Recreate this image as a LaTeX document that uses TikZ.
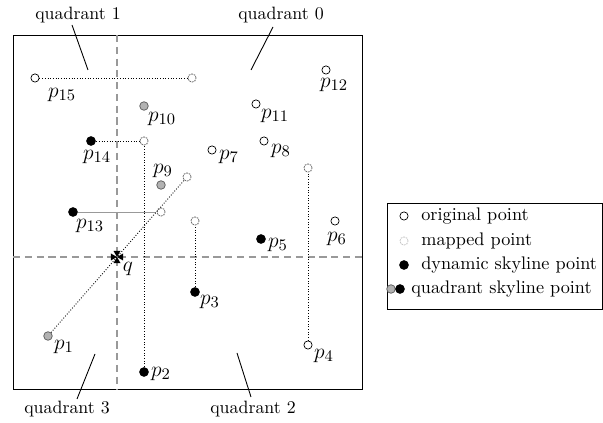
\documentclass[tikz,border=0pt]{standalone}
\usetikzlibrary{calc}
\begin{document}
\begin{tikzpicture}[x=0.56pt, y=-0.56pt]
    \tikzstyle{orig} = [draw, circle, fill=white, inner sep=0pt, minimum size=4.6pt, line width=0.4pt]
    \tikzstyle{mapped} = [draw=gray!85!black, circle, fill=white, dash pattern=on 1pt off 0.5pt, inner sep=0pt, minimum size=4.6pt, line width=0.45pt]
    \tikzstyle{dyn} = [circle, fill=black, inner sep=0pt, minimum size=5.4pt]
    \tikzstyle{quad} = [draw=gray!70!black, circle, fill=gray!60, inner sep=0pt, minimum size=4.8pt, line width=0.4pt]
    \tikzstyle{plabel} = [inner sep=0pt, font=\fontsize{13}{15}\selectfont]
    \tikzstyle{qlabel} = [inner sep=1pt, font=\normalsize]
    \tikzstyle{keytext} = [inner sep=0pt, anchor=west, font=\fontsize{10.2}{12}\selectfont]
    \tikzstyle{link} = [densely dotted, line width=0.5pt]
    \tikzstyle{axis} = [gray!80, line width=0.9pt, dash pattern=on 4pt off 2.6pt]

    \useasboundingbox (0,0) rectangle (603,423);

    % frame and quadrant axes
    \coordinate (nw) at (13,35);
    \coordinate (se) at (362,389);
    \coordinate (q) at (117,257);
    \draw[line width=0.55pt] (nw) rectangle (se);
    \draw[axis] (q |- nw) -- (q |- se);
    \draw[axis] (q -| nw) -- (q -| se);

    % quadrant names
    \node[qlabel] (qd1) at (78,15) {quadrant 1};
    \node[qlabel] (qd0) at (281,15) {quadrant 0};
    \node[qlabel] (qd3) at (67,409) {quadrant 3};
    \node[qlabel] (qd2) at (253,409) {quadrant 2};
    \coordinate (qd1a) at (72,25);  \coordinate (qd1b) at (88,70);
    \coordinate (qd0a) at (273,27); \coordinate (qd0b) at (251,70);
    \coordinate (qd3a) at (77,399); \coordinate (qd3b) at (95,354);
    \coordinate (qd2a) at (251,397); \coordinate (qd2b) at (237,353);
    \draw[line width=0.5pt] (qd1a) -- (qd1b);
    \draw[line width=0.5pt] (qd0a) -- (qd0b);
    \draw[line width=0.5pt] (qd3a) -- (qd3b);
    \draw[line width=0.5pt] (qd2a) -- (qd2b);

    % points
    \node[orig] (p15) at (35,78) {};
    \node[mapped] (m15) at (192,78) {};
    \node[quad] (p10) at (144,106) {};
    \node[dyn] (p14) at (91,141) {};
    \node[mapped] (m14) at (144,141) {};
    \node[dyn] (p13) at (73,212) {};
    \node[mapped] (m13) at (161,212) {};
    \node[quad] (p9) at (161,185) {};
    \node[quad] (p1) at (48,336) {};
    \node[mapped] (m1) at (187,177) {};
    \node[dyn] (p2) at (144,372) {};
    \node[dyn] (p3) at (195,292) {};
    \node[mapped] (m3) at (195,221) {};
    \node[orig] (p7) at (212,150) {};
    \node[orig] (p11) at (256,104) {};
    \node[orig] (p8) at (264,141) {};
    \node[orig] (p12) at (326,70) {};
    \node[dyn] (p5) at (261,239) {};
    \node[orig] (p6) at (335,221) {};
    \node[orig] (p4) at (308,345) {};
    \node[mapped] (m4) at (308,168) {};

    % links to mapped points
    \draw[link] (p15) -- (m15);
    \draw[link] (p14) -- (m14);
    \draw[link] (p2) -- (m14);
    \draw[gray!80, line width=0.4pt] (p13) -- (m13);
    \draw[link] (p1) -- (m1);
    \draw[link] (p3) -- (m3);
    \draw[link] (p4) -- (m4);

    % query point
    \foreach \a in {0,90,180,270}
        \fill (q) -- ($(q)+(\a-30:7)$) -- ($(q)+(\a+30:7)$) -- cycle;
    \node[plabel] (lq) at (128,269) {$q$};

    % labels
    \node[plabel] (l15) at (62,95) {$p_{15}$};
    \node[plabel] (l10) at (162,119) {$p_{10}$};
    \node[plabel] (l14) at (97,157) {$p_{14}$};
    \node[plabel] (l13) at (90,226) {$p_{13}$};
    \node[plabel] (l9) at (163,171) {$p_{9}$};
    \node[plabel] (l7) at (229,157) {$p_{7}$};
    \node[plabel] (l11) at (275,116) {$p_{11}$};
    \node[plabel] (l8) at (281,151) {$p_{8}$};
    \node[plabel] (l12) at (334,85) {$p_{12}$};
    \node[plabel] (l5) at (278,245) {$p_{5}$};
    \node[plabel] (l6) at (337,239) {$p_{6}$};
    \node[plabel] (l3) at (210,302) {$p_{3}$};
    \node[plabel] (l2) at (161,374) {$p_{2}$};
    \node[plabel] (l1) at (64,347) {$p_{1}$};
    \node[plabel] (l4) at (324,356) {$p_{4}$};

    % legend
    \draw[line width=0.55pt] (387,203) rectangle (602,309);
    \node[orig] (ko) at (404,216) {};
    \node[mapped, draw=gray!45] (km) at (404,241) {};
    \node[dyn] (kd) at (404,265) {};
    \node[quad] (kqa) at (391,289) {};
    \node[dyn] (kqb) at (400,289) {};
    \node[keytext] (to) at (421,216) {original point};
    \node[keytext] (tm) at (421,241) {mapped point};
    \node[keytext] (td) at (421,265) {dynamic skyline point};
    \node[keytext] (tq) at (411,289) {quadrant skyline point};
\end{tikzpicture}
\end{document}
